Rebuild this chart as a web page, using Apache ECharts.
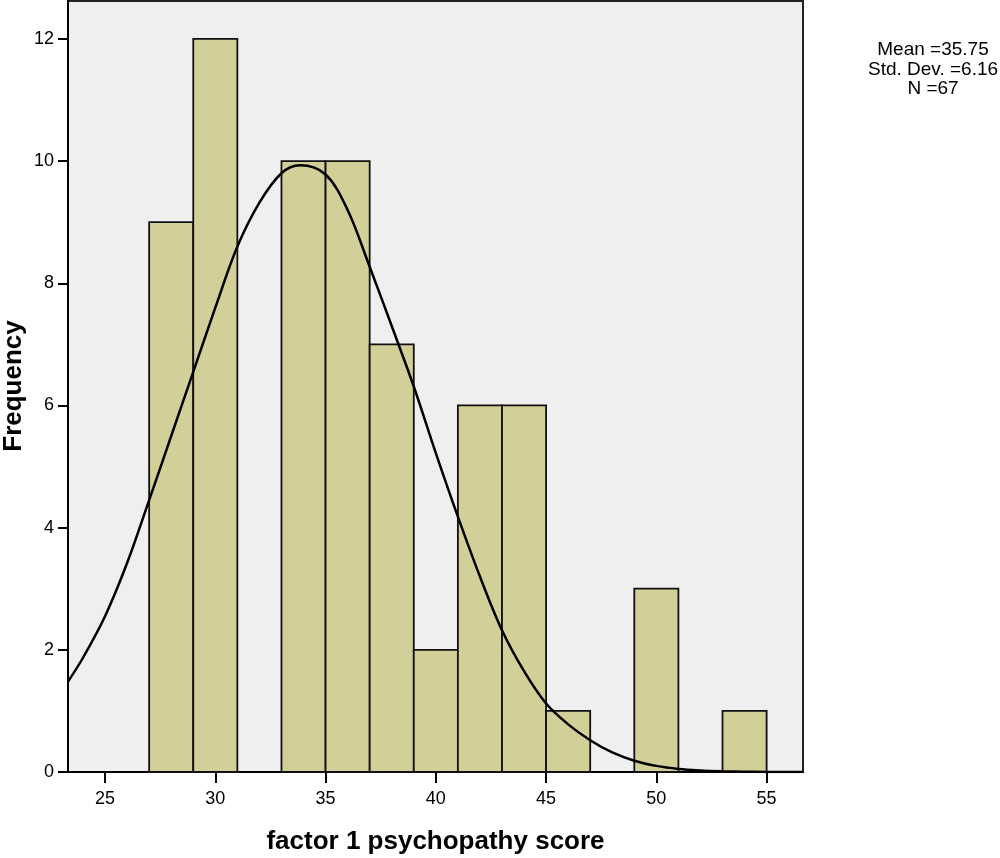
<!DOCTYPE html>
<html>
<head>
<meta charset="utf-8">
<script src="https://cdn.jsdelivr.net/npm/echarts@6/dist/echarts.min.js"></script>
<style>
html,body{margin:0;padding:0;background:#fff;}
#chart{width:1000px;height:858px;}
</style>
</head>
<body>
<div id="chart"></div>
<script>
// Histogram bins (left edge, bin width 2) and frequencies
var binStart = [27, 29, 31, 33, 35, 37, 39, 41, 43, 45, 47, 49, 51, 53];
var binWidth = 2;
var frequency = [9, 12, 0, 10, 10, 7, 2, 6, 6, 1, 0, 3, 0, 1];

// Normal curve points
var curveX = [23.32, 24, 25, 26, 27, 28, 29, 30, 31, 32, 33, 33.84, 35, 36, 37, 38, 39, 40, 41, 42, 43, 44, 45, 46, 47, 48, 49, 50, 51, 52, 53, 54, 55, 56.65];
var curveY = [1.48, 1.87, 2.55, 3.42, 4.45, 5.5, 6.55, 7.6, 8.6, 9.32, 9.8, 9.93, 9.78, 9.2, 8.27, 7.3, 6.31, 5.22, 4.18, 3.2, 2.32, 1.65, 1.12, 0.78, 0.52, 0.32, 0.185, 0.1, 0.05, 0.025, 0.012, 0.005, 0.002, 0.0005];

var xTicks = [25, 30, 35, 40, 45, 50, 55];
var yTicks = [0, 2, 4, 6, 8, 10, 12];

var statsLines = ['Mean =35.75', 'Std. Dev. =6.16', 'N =67'];
var yTitle = 'Frequency';
var xTitle = 'factor 1 psychopathy score';

var barData = [];
for (var i = 0; i < binStart.length; i++) {
  if (frequency[i] > 0) barData.push([binStart[i], binStart[i] + binWidth, frequency[i]]);
}
var curveData = curveX.map(function (x, i) { return [x, curveY[i]]; });

var chart = echarts.init(document.getElementById('chart'));
var font = 'Liberation Sans, Arial, sans-serif';

var graphics = statsLines.map(function (t, i) {
  return {
    type: 'text', x: 933, y: 50 + i * 19.5,
    style: { text: t, fontFamily: font, fontSize: 19, fill: '#000', align: 'center', verticalAlign: 'middle' }
  };
});
graphics.push({
  type: 'text', x: 14, y: 386, rotation: Math.PI / 2,
  style: { text: yTitle, fontFamily: font, fontSize: 26, fontWeight: 'bold', fill: '#000', align: 'center', verticalAlign: 'middle' }
});

chart.setOption({
  animation: false,
  backgroundColor: '#ffffff',
  grid: {
    left: 68, top: 1, right: 197, bottom: 86,
    outerBoundsMode: 'none', containLabel: false,
    show: true, backgroundColor: '#EFEFEF', borderColor: '#222', borderWidth: 2
  },
  xAxis: {
    type: 'value', min: 23.32, max: 56.65,
    name: xTitle, nameLocation: 'middle', nameGap: 57,
    nameTextStyle: { fontFamily: font, fontWeight: 'bold', fontSize: 26, color: '#000' },
    axisLine: { show: true, onZero: false, lineStyle: { color: '#000', width: 2 } },
    axisTick: { show: true, length: 11, customValues: xTicks, lineStyle: { color: '#000', width: 2 } },
    axisLabel: { customValues: xTicks, fontFamily: font, fontSize: 18, color: '#000', margin: 18 },
    splitLine: { show: false }
  },
  yAxis: {
    type: 'value', min: 0, max: 12.62,
    axisLine: { show: true, lineStyle: { color: '#000', width: 2 } },
    axisTick: { show: true, length: 10, customValues: yTicks, lineStyle: { color: '#000', width: 2 } },
    axisLabel: { customValues: yTicks, fontFamily: font, fontSize: 18, color: '#000', margin: 14 },
    splitLine: { show: false }
  },
  series: [
    {
      type: 'custom',
      data: barData,
      encode: { x: [0, 1], y: 2 },
      renderItem: function (params, api) {
        var p0 = api.coord([api.value(0), api.value(2)]);
        var p1 = api.coord([api.value(1), 0]);
        return {
          type: 'rect',
          shape: { x: p0[0], y: p0[1], width: p1[0] - p0[0], height: p1[1] - p0[1] },
          style: { fill: '#D3CF98', stroke: '#111', lineWidth: 1.8 }
        };
      },
      z: 2
    },
    {
      type: 'line',
      data: curveData,
      smooth: 0.35,
      showSymbol: false,
      lineStyle: { color: '#000', width: 2.5 },
      clip: true,
      z: 3
    }
  ],
  graphic: graphics
});
</script>
</body>
</html>
